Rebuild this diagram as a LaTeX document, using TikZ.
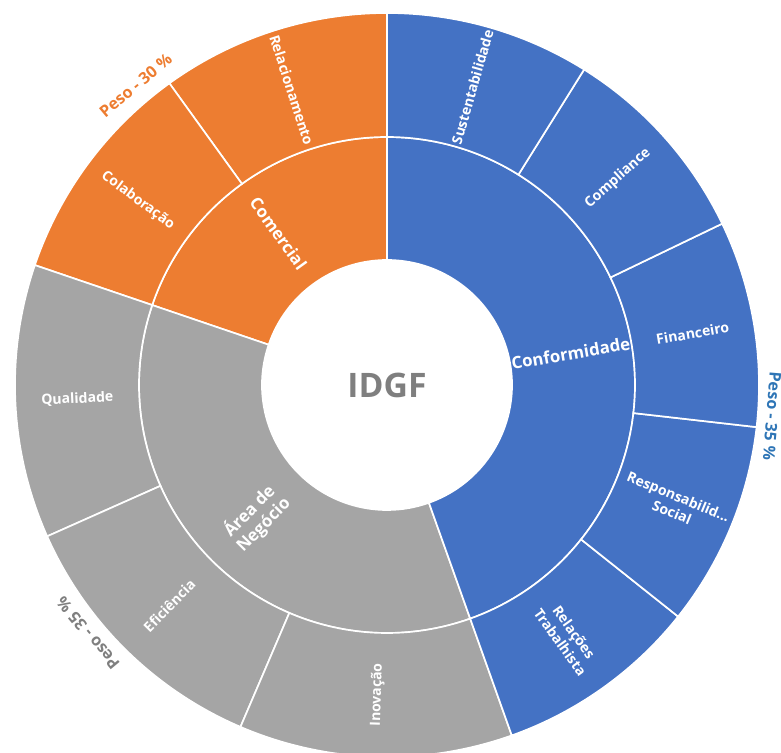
\documentclass[tikz,border=0pt]{standalone}
\usepackage{fontspec}
\setmainfont{Open Sans}
\usepackage{tikz}
\definecolor{azul}{HTML}{4472C4}
\definecolor{laranja}{HTML}{ED7D31}
\definecolor{cinza}{HTML}{A5A5A5}
\definecolor{azulpeso}{HTML}{2E75B6}
\definecolor{cinzatexto}{HTML}{7F7F7F}

\begin{document}
\begin{tikzpicture}[
    fatia/.style={draw=white, line width=1.2pt},
    folha/.style={text=white, font=\bfseries\fontsize{10}{12}\selectfont, align=center},
    ramo/.style={text=white, font=\bfseries\fontsize{12}{14}\selectfont, align=center},
    peso/.style={font=\bfseries\fontsize{11.5}{13}\selectfont}
  ]
                  % Define coordinates
                  \coordinate (O) at (0,0);
                  \clip (-9.675,-9.175) rectangle (9.85,9.625);

                  % Draw the inner ring
                  \foreach \a/\b/\c in {90/161.2/laranja, 161.2/289.6/cinza, -70.4/90/azul}
                    \filldraw[fatia, fill=\c] (\a:3.125) arc[start angle=\a, end angle=\b, radius=3.125cm]
                      -- (\b:6.2) arc[start angle=\b, end angle=\a, radius=6.2cm] -- cycle;

                  % Draw the outer ring
                  \foreach \a/\b/\c in {90/125.8/laranja, 125.8/161.2/laranja,
                      161.2/204/cinza, 204/246.8/cinza, 246.8/289.6/cinza,
                      -70.4/-38.5/azul, -38.5/-6.5/azul, -6.5/25.7/azul, 25.7/58/azul, 58/90/azul}
                    \filldraw[fatia, fill=\c] (\a:6.2) arc[start angle=\a, end angle=\b, radius=6.2cm]
                      -- (\b:9.3) arc[start angle=\b, end angle=\a, radius=9.3cm] -- cycle;

                  % Center
                  \node[text=cinzatexto, font=\bfseries\fontsize{24}{28}\selectfont] (idgf) at (O) {IDGF};

                  % Inner labels
                  \node[ramo, rotate=-54.4] (com) at (125.6:4.66) {Comercial};
                  \node[ramo, rotate=45.4] (area) at (225.4:4.66) {Área de\\Negócio};
                  \node[ramo, rotate=9.8] (conf) at (9.8:4.66) {Conformidade};

                  % Outer labels
                  \node[folha, rotate=-72.1] (rel) at (107.9:7.75) {Relacionamento};
                  \node[folha, rotate=-36.5] (colab) at (143.5:7.75) {Colaboração};
                  \node[folha, rotate=2.6] (qual) at (182.6:7.75) {Qualidade};
                  \node[folha, rotate=45.4] (efic) at (225.4:7.75) {Eficiência};
                  \node[folha, rotate=88.2] (inov) at (268.2:7.75) {Inovação};
                  \node[folha, rotate=-54.45] (trab) at (-54.45:7.75) {Relações\\Trabalhista};
                  \node[folha, rotate=-22.5] (resp) at (-22.5:7.8) {Responsabilid...\\Social};
                  \node[folha, rotate=9.6] (fin) at (9.6:7.75) {Financeiro};
                  \node[folha, rotate=41.85] (compl) at (41.85:7.75) {Compliance};
                  \node[folha, rotate=74] (sust) at (74:7.75) {Sustentabilidade};

                  % Weights
                  \node[peso, text=laranja, rotate=40] (pcom) at (130:9.78) {Peso - 30 \%};
                  \node[peso, text=azulpeso, rotate=-94.6] (pconf) at (-4.6:9.66) {Peso - 35 \%};
                  \node[peso, text=cinzatexto, rotate=129.7] (parea) at (219.7:9.72) {Peso - 35 \%};

              \end{tikzpicture}
\end{document}
